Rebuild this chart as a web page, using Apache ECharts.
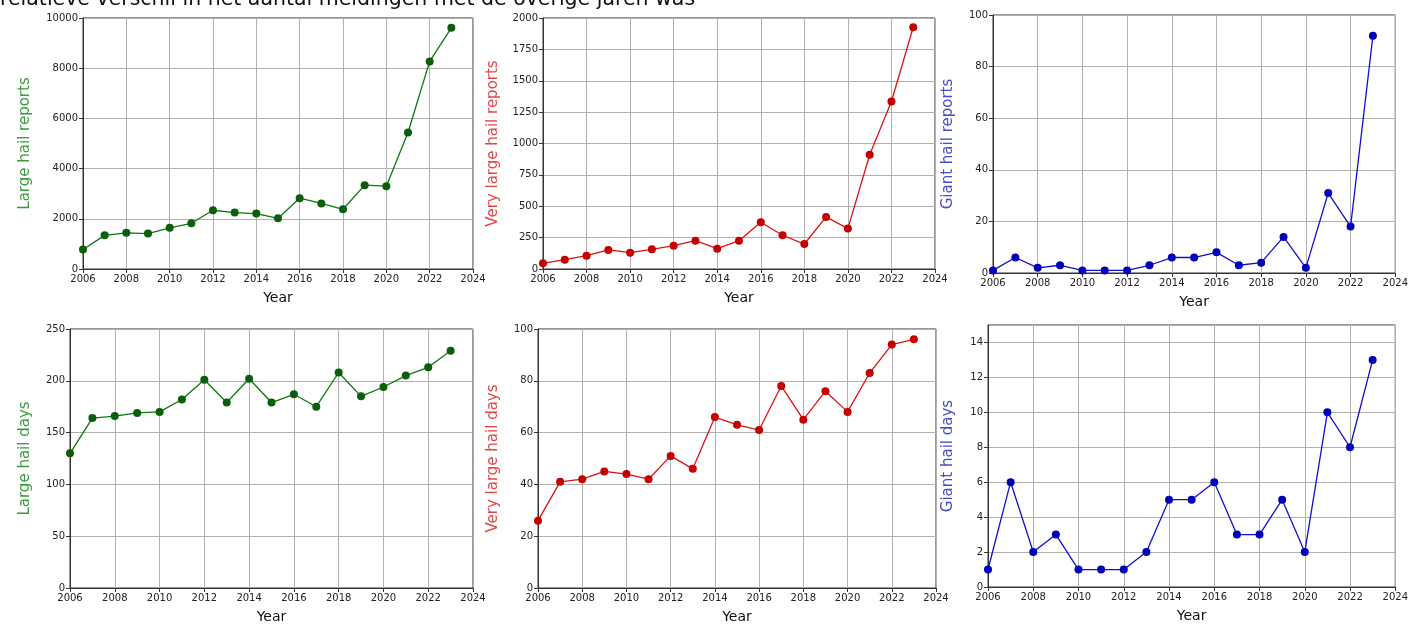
<!DOCTYPE html>
<html>
<head>
<meta charset="utf-8">
<script src="https://cdn.jsdelivr.net/npm/echarts@6/dist/echarts.min.js"></script>
<style>
html,body{margin:0;padding:0;background:#fff;}
#chart{width:1411px;height:625px;}
</style>
</head>
<body>
<div id="chart"></div>
<script>
const years = [2006,2007,2008,2009,2010,2011,2012,2013,2014,2015,2016,2017,2018,2019,2020,2021,2022,2023];
const largeReports = [780,1340,1440,1410,1640,1820,2340,2250,2210,2020,2820,2610,2380,3340,3300,5440,8270,9610];
const veryLargeReports = [45,74,106,152,130,157,186,226,162,226,372,269,199,415,322,910,1335,1926];
const giantReports = [1,6,2,3,1,1,1,3,6,6,8,3,4,14,2,31,18,92];
const largeDays = [130,164,166,169,170,182,201,179,202,179,187,175,208,185,194,205,213,229];
const veryLargeDays = [26,41,42,45,44,42,51,46,66,63,61,78,65,76,68,83,94,96];
const giantDays = [1,6,2,3,1,1,1,2,5,5,6,3,3,5,2,10,8,13];
const captionText = 'relatieve verschil in het aantal meldingen met de overige jaren was';

const panels = [
  {name:'Large hail reports', data:largeReports, max:10000, interval:2000, line:'#0a7a0a', mark:'#0b5e0b', txt:'#3d9a3d',
   box:{left:83, top:18, width:390, height:251}, nameGap:50},
  {name:'Very large hail reports', data:veryLargeReports, max:2000, interval:250, line:'#e01010', mark:'#c40000', txt:'#e04848',
   box:{left:543, top:18, width:392, height:251}, nameGap:42},
  {name:'Giant hail reports', data:giantReports, max:100, interval:20, line:'#1010d0', mark:'#0000b8', txt:'#4b4bc8',
   box:{left:993, top:15, width:403, height:258}, nameGap:37},
  {name:'Large hail days', data:largeDays, max:250, interval:50, line:'#0a7a0a', mark:'#0b5e0b', txt:'#3d9a3d',
   box:{left:70, top:329, width:403, height:259}, nameGap:37},
  {name:'Very large hail days', data:veryLargeDays, max:100, interval:20, line:'#e01010', mark:'#c40000', txt:'#e04848',
   box:{left:538, top:329, width:398, height:259}, nameGap:37},
  {name:'Giant hail days', data:giantDays, max:15, interval:2, line:'#1010d0', mark:'#0000b8', txt:'#4b4bc8',
   box:{left:988, top:325, width:409, height:262}, nameGap:32}
];

const FONT = 'DejaVu Sans';
const grids = [], xAxes = [], yAxes = [], series = [];
panels.forEach((p, i) => {
  grids.push(Object.assign({show:true, borderColor:'#333', borderWidth:1, backgroundColor:'#fff', containLabel:false}, p.box));
  xAxes.push({
    type:'value', gridIndex:i, min:2006, max:2024, interval:2,
    name:'Year', nameLocation:'middle', nameGap:22,
    nameTextStyle:{color:'#111', fontSize:14, fontFamily:FONT},
    axisLine:{show:true, onZero:false, lineStyle:{color:'#333'}},
    axisTick:{show:true, length:4, lineStyle:{color:'#333'}},
    axisLabel:{color:'#222', fontSize:10, fontFamily:FONT, margin:5, formatter:v=>String(v)},
    splitLine:{show:true, lineStyle:{color:'#b0b0b0', width:1}}
  });
  yAxes.push({
    type:'value', gridIndex:i, min:0, max:p.max, interval:p.interval,
    name:p.name, nameLocation:'middle', nameGap:p.nameGap, nameRotate:90,
    nameTextStyle:{color:p.txt, fontSize:15, fontFamily:FONT},
    axisLine:{show:true, lineStyle:{color:'#333'}},
    axisTick:{show:true, length:4, lineStyle:{color:'#333'}},
    axisLabel:{color:'#222', fontSize:10, fontFamily:FONT, margin:5, showMaxLabel: (p.max % p.interval === 0), formatter:v=>String(v)},
    splitLine:{show:true, lineStyle:{color:'#b0b0b0', width:1}}
  });
  series.push({
    type:'line', xAxisIndex:i, yAxisIndex:i,
    data: years.map((y, k) => [y, p.data[k]]),
    symbol:'circle', symbolSize:8, showSymbol:true,
    lineStyle:{color:p.line, width:1.3},
    itemStyle:{color:p.mark},
    animation:false, clip:true
  });
});

const chart = echarts.init(document.getElementById('chart'), null, {renderer:'canvas'});
chart.setOption({
  animation:false,
  backgroundColor:'#fff',
  title:{text:captionText, left:-5, top:-16, textStyle:{color:'#111', fontSize:20.5, fontWeight:'normal', fontFamily:FONT}},
  grid:grids, xAxis:xAxes, yAxis:yAxes, series:series
});
</script>
</body>
</html>
